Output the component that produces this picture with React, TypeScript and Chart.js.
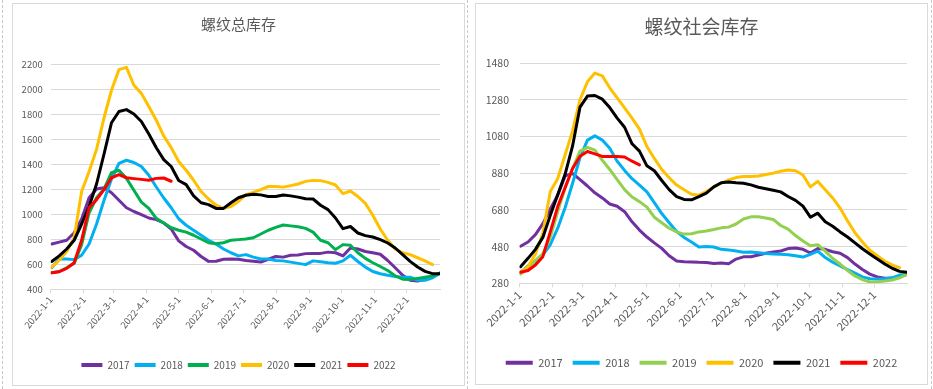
import React, { useEffect, useRef } from "react";
import { Chart, registerables } from "chart.js";
Chart.register(...registerables);

// ---- data ----
const weekDays = [1, 8, 15, 22, 29, 36, 43, 50, 57, 64, 71, 78, 85, 92, 99, 106, 113, 120, 127, 134, 141, 148, 155, 162, 169, 176, 183, 190, 197, 204, 211, 218, 225, 232, 239, 246, 253, 260, 267, 274, 281, 288, 295, 302, 309, 316, 323, 330, 337, 344, 351, 358, 365];
const monthStarts = [0, 31, 59, 90, 120, 151, 181, 212, 243, 273, 304, 334];
const monthLabels = ["2022-1-1", "2022-2-1", "2022-3-1", "2022-4-1", "2022-5-1", "2022-6-1", "2022-7-1", "2022-8-1", "2022-9-1", "2022-10-1", "2022-11-1", "2022-12-1"];
const seriesNames = ["2017", "2018", "2019", "2020", "2021", "2022"];

// 螺纹总库存
const total2017 = [760, 775, 790, 850, 960, 1130, 1200, 1210, 1170, 1110, 1050, 1020, 995, 968, 955, 928, 880, 785, 740, 710, 660, 621, 622, 638, 640, 638, 628, 622, 616, 638, 660, 655, 670, 672, 683, 685, 685, 695, 690, 665, 728, 720, 700, 690, 678, 628, 570, 510, 470, 463, 478, 495, 528];
const total2018 = [570, 640, 640, 635, 670, 760, 920, 1110, 1280, 1405, 1430, 1412, 1380, 1310, 1216, 1128, 1050, 962, 910, 870, 830, 790, 760, 720, 690, 665, 675, 655, 640, 640, 628, 625, 615, 605, 595, 625, 618, 610, 606, 625, 670, 620, 575, 540, 522, 510, 500, 495, 495, 470, 470, 490, 528];
const total2019 = [530, 540, 570, 605, 755, 1010, 1130, 1200, 1330, 1350, 1285, 1190, 1095, 1045, 965, 928, 890, 870, 855, 830, 800, 770, 762, 770, 790, 795, 800, 810, 840, 870, 893, 912, 905, 898, 885, 855, 790, 770, 715, 755, 750, 690, 645, 610, 580, 548, 505, 478, 475, 485, 495, 505, 525];
const total2020 = [575, 630, 700, 810, 1180, 1340, 1517, 1770, 1990, 2155, 2173, 2030, 1965, 1860, 1750, 1624, 1531, 1420, 1350, 1270, 1180, 1120, 1070, 1045, 1060, 1100, 1155, 1173, 1195, 1220, 1220, 1215, 1227, 1240, 1261, 1269, 1267, 1253, 1232, 1163, 1184, 1140, 1085, 990, 880, 790, 720, 690, 675, 650, 625, 595, null];
const total2021 = [620, 665, 720, 790, 920, 1060, 1240, 1480, 1730, 1820, 1835, 1800, 1740, 1640, 1530, 1435, 1380, 1268, 1235, 1145, 1090, 1075, 1045, 1045, 1090, 1130, 1150, 1158, 1153, 1140, 1140, 1152, 1145, 1135, 1122, 1120, 1070, 1035, 968, 883, 900, 848, 827, 816, 795, 768, 728, 675, 621, 576, 541, 523, 523];
const total2022 = [530, 538, 565, 610, 790, 1050, 1115, 1195, 1290, 1315, 1290, 1283, 1277, 1270, 1285, 1288, 1262, null, null, null, null, null, null, null, null, null, null, null, null, null, null, null, null, null, null, null, null, null, null, null, null, null, null, null, null, null, null, null, null, null, null, null, null];

// 螺纹社会库存
const social2017 = [482, 505, 545, 605, 685, 760, 865, 878, 845, 810, 773, 745, 712, 700, 670, 615, 570, 532, 500, 470, 430, 402, 398, 396, 394, 393, 388, 390, 387, 412, 424, 425, 434, 444, 451, 456, 469, 472, 465, 445, 470, 465, 452, 444, 420, 385, 355, 330, 315, 307, 307, 315, 328];
const social2018 = [340, 375, 400, 435, 490, 580, 693, 825, 965, 1060, 1083, 1060, 1015, 945, 895, 850, 815, 778, 720, 660, 610, 562, 530, 505, 478, 480, 478, 465, 462, 456, 449, 450, 446, 442, 440, 438, 436, 430, 423, 438, 455, 420, 395, 375, 355, 335, 315, 305, 304, 305, 310, 325, 330];
const social2019 = [330, 365, 405, 440, 530, 670, 800, 905, 1000, 1020, 1005, 950, 900, 845, 790, 750, 725, 695, 640, 610, 580, 560, 548, 550, 560, 565, 573, 582, 586, 603, 630, 642, 642, 636, 628, 595, 575, 540, 510, 485, 490, 455, 415, 385, 350, 320, 300, 287, 289, 292, 298, 310, 330];
const social2020 = [340, 370, 440, 553, 780, 850, 980, 1110, 1280, 1378, 1425, 1410, 1345, 1290, 1235, 1180, 1120, 1025, 960, 900, 855, 815, 790, 765, 760, 780, 805, 825, 843, 856, 862, 862, 865, 873, 880, 890, 897, 893, 870, 805, 835, 790, 745, 690, 620, 555, 505, 460, 430, 400, 380, 365, null];
const social2021 = [370, 416, 465, 530, 650, 762, 875, 1028, 1240, 1300, 1303, 1283, 1237, 1180, 1130, 1040, 1000, 920, 893, 840, 790, 752, 737, 735, 752, 771, 805, 828, 832, 828, 825, 816, 803, 795, 787, 778, 753, 732, 700, 640, 662, 615, 591, 560, 532, 500, 468, 440, 412, 385, 362, 345, 340];
const social2022 = [340, 350, 380, 425, 560, 698, 802, 905, 972, 998, 985, 971, 971, 971, 968, 945, 925, null, null, null, null, null, null, null, null, null, null, null, null, null, null, null, null, null, null, null, null, null, null, null, null, null, null, null, null, null, null, null, null, null, null, null, null];

const FONT = "'Noto Sans CJK SC', 'Noto Sans', sans-serif";
const TEXT = "#595959";
const GRID = "#d9d9d9";

type Cfg = {
  title: string;
  series: (number | null)[][];
  colors: string[];
  w: number;
  h: number;
  yMin: number;
  yMax: number;
  padB: number;
  yAxisW: number;
  rightW: number;
  xAxisH: number;
  titleSize: number;
  titlePadTop: number;
  titlePadBottom: number;
  yTickSize: number;
  yTickPad: number;
  xTickSize: number;
  xRot: number;
  legendSize: number;
  legendBoxW: number;
  legendPad: number;
};

function ChartPanel({ cfg }: { cfg: Cfg }) {
  const ref = useRef<HTMLCanvasElement>(null);
  useEffect(() => {
    const canvas = ref.current;
    if (!canvas) return;
    const chart = new Chart(canvas, {
      type: "line",
      data: {
        datasets: cfg.series.map((vals, i) => ({
          label: seriesNames[i],
          data: weekDays.map((d, j) => ({ x: d, y: vals[j] })),
          borderColor: cfg.colors[i],
          backgroundColor: cfg.colors[i],
          borderWidth: 3,
          pointRadius: 0,
          tension: 0,
          borderJoinStyle: "round",
          borderCapStyle: "round",
          order: 10 - i,
          yAxisID: "y",
        })) as any,
      },
      options: {
        animation: false,
        responsive: false,
        events: [],
        layout: { padding: { left: 0, right: 0, top: 0, bottom: cfg.padB } },
        plugins: {
          title: {
            display: true,
            text: cfg.title,
            color: TEXT,
            font: { family: FONT, size: cfg.titleSize, weight: "normal" },
            padding: { top: cfg.titlePadTop, bottom: cfg.titlePadBottom },
          },
          legend: {
            position: "bottom",
            labels: {
              boxWidth: cfg.legendBoxW,
              boxHeight: 4,
              padding: cfg.legendPad,
              color: TEXT,
              font: { family: FONT, size: cfg.legendSize },
              generateLabels: (c: any) =>
                c.data.datasets.map((ds: any, i: number) => ({
                  text: ds.label,
                  fillStyle: ds.borderColor,
                  strokeStyle: ds.borderColor,
                  lineWidth: 0,
                  hidden: false,
                  datasetIndex: i,
                  fontColor: TEXT,
                })),
            },
          },
          tooltip: { enabled: false },
        },
        scales: {
          x: {
            type: "linear",
            min: 0,
            max: 365,
            afterBuildTicks: (s: any) => {
              s.ticks = monthStarts.map((v) => ({ value: v }));
            },
            afterFit: (s: any) => {
              s.height = cfg.xAxisH;
            },
            ticks: {
              autoSkip: false,
              maxRotation: cfg.xRot,
              minRotation: cfg.xRot,
              padding: 1,
              color: TEXT,
              font: { family: FONT, size: cfg.xTickSize },
              callback: (v: any) => {
                const k = monthStarts.indexOf(Number(v));
                return k >= 0 ? monthLabels[k] : "";
              },
            },
            grid: { drawOnChartArea: false, drawTicks: true, tickLength: 4, color: GRID },
            border: { display: true, color: GRID },
          },
          y: {
            position: "left",
            min: cfg.yMin,
            max: cfg.yMax,
            afterFit: (s: any) => {
              s.width = cfg.yAxisW;
            },
            ticks: {
              stepSize: 200,
              padding: cfg.yTickPad,
              color: TEXT,
              font: { family: FONT, size: cfg.yTickSize },
              callback: (v: any) => String(v),
            },
            grid: { color: GRID, drawTicks: false, lineWidth: 1 },
            border: { display: false },
          },
          yPad: {
            type: "linear",
            position: "right",
            display: true,
            min: 0,
            max: 1,
            afterFit: (s: any) => {
              s.width = cfg.rightW;
            },
            ticks: { display: false },
            grid: { display: false, drawTicks: false },
            border: { display: false },
          },
        },
      } as any,
    });
    return () => chart.destroy();
  }, []);
  return <canvas ref={ref} width={cfg.w} height={cfg.h} style={{ display: "block" }} />;
}

const leftCfg: Cfg = {
  title: "螺纹总库存",
  series: [total2017, total2018, total2019, total2020, total2021, total2022],
  colors: ["#7030A0", "#00B0F0", "#00B050", "#FFC000", "#000000", "#FF0000"],
  w: 451,
  h: 381,
  yMin: 400,
  yMax: 2200,
  padB: 5,
  yAxisW: 37.7,
  rightW: 24,
  xAxisH: 66,
  titleSize: 15,
  titlePadTop: 11,
  titlePadBottom: 31,
  yTickSize: 9.5,
  yTickPad: 8,
  xTickSize: 9.5,
  xRot: 50,
  legendSize: 10,
  legendBoxW: 21,
  legendPad: 5,
};

const rightCfg: Cfg = {
  title: "螺纹社会库存",
  series: [social2017, social2018, social2019, social2020, social2021, social2022],
  colors: ["#7030A0", "#00B0F0", "#92D050", "#FFC000", "#000000", "#FF0000"],
  w: 451,
  h: 380,
  yMin: 280,
  yMax: 1480,
  padB: 5.8,
  yAxisW: 43.5,
  rightW: 20,
  xAxisH: 63.9,
  titleSize: 19,
  titlePadTop: 11.6,
  titlePadBottom: 24.6,
  yTickSize: 10.5,
  yTickPad: 10.5,
  xTickSize: 11,
  xRot: 45,
  legendSize: 11,
  legendBoxW: 27,
  legendPad: 10,
};

export default function App() {
  const box: React.CSSProperties = {
    position: "absolute",
    boxSizing: "border-box",
    border: `1px solid ${GRID}`,
    background: "#fff",
  };
  const dash = (x: number): React.CSSProperties => ({
    position: "absolute",
    left: x,
    top: 0,
    height: 389,
    width: 0,
    borderLeft: "1px dashed #c8c8c8",
  });
  return (
    <div style={{ position: "fixed", left: 0, top: 0, width: 933, height: 389, background: "#fff", overflow: "hidden" }}>
      <div style={dash(2)} />
      <div style={dash(467)} />
      <div style={dash(931)} />
      <div style={{ ...box, left: 12, top: 3, width: 453, height: 383 }}>
        <ChartPanel cfg={leftCfg} />
      </div>
      <div style={{ ...box, left: 475, top: 3, width: 453, height: 382 }}>
        <ChartPanel cfg={rightCfg} />
      </div>
    </div>
  );
}
